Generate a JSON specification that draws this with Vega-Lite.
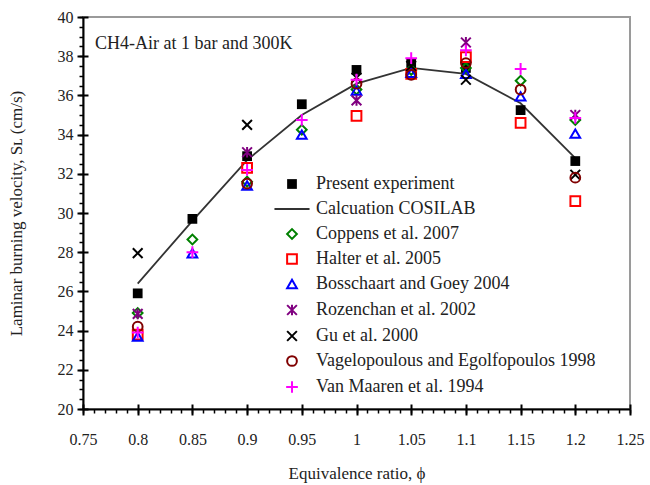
{
  "$schema": "https://vega.github.io/schema/vega-lite/v6.json",
  "autosize": "none",
  "padding": {"left": 83, "top": 17, "right": 20, "bottom": 76},
  "width": 547,
  "height": 392,
  "background": "white",
  "config": {
    "font": "Liberation Serif",
    "view": {"stroke": "#9a9a9a", "strokeWidth": 2},
    "axis": {"labelFont": "Liberation Serif", "titleFont": "Liberation Serif", "labelColor": "#222", "titleColor": "#222", "tickColor": "black", "domainColor": "black", "grid": false, "labelFlush": false, "labelOverlap": false},
    "legend": {"orient": "none", "legendX": 200, "legendY": 158, "labelFont": "Liberation Serif", "labelFontSize": 18, "labelColor": "#222", "labelOffset": 15, "rowPadding": 7, "symbolSize": 95, "symbolStrokeWidth": 2, "padding": 0, "labelLimit": 400, "title": null}
  },
  "datasets": {
    "pts": [
      {"phi": 0.8, "v": 25.9, "series": "Present experiment"},
      {"phi": 0.85, "v": 29.7, "series": "Present experiment"},
      {"phi": 0.9, "v": 32.9, "series": "Present experiment"},
      {"phi": 0.95, "v": 35.55, "series": "Present experiment"},
      {"phi": 1.0, "v": 37.3, "series": "Present experiment"},
      {"phi": 1.05, "v": 37.65, "series": "Present experiment"},
      {"phi": 1.1, "v": 37.4, "series": "Present experiment"},
      {"phi": 1.15, "v": 35.25, "series": "Present experiment"},
      {"phi": 1.2, "v": 32.65, "series": "Present experiment"},
      {"phi": 0.8, "v": 24.9, "series": "Coppens et al. 2007"},
      {"phi": 0.85, "v": 28.65, "series": "Coppens et al. 2007"},
      {"phi": 0.9, "v": 31.6, "series": "Coppens et al. 2007"},
      {"phi": 0.95, "v": 34.25, "series": "Coppens et al. 2007"},
      {"phi": 1.0, "v": 36.3, "series": "Coppens et al. 2007"},
      {"phi": 1.05, "v": 37.3, "series": "Coppens et al. 2007"},
      {"phi": 1.1, "v": 37.4, "series": "Coppens et al. 2007"},
      {"phi": 1.15, "v": 36.75, "series": "Coppens et al. 2007"},
      {"phi": 1.2, "v": 34.75, "series": "Coppens et al. 2007"},
      {"phi": 0.8, "v": 23.8, "series": "Halter et al. 2005"},
      {"phi": 0.9, "v": 32.3, "series": "Halter et al. 2005"},
      {"phi": 1.0, "v": 34.95, "series": "Halter et al. 2005"},
      {"phi": 1.05, "v": 37.1, "series": "Halter et al. 2005"},
      {"phi": 1.1, "v": 37.95, "series": "Halter et al. 2005"},
      {"phi": 1.15, "v": 34.6, "series": "Halter et al. 2005"},
      {"phi": 1.2, "v": 30.6, "series": "Halter et al. 2005"},
      {"phi": 0.8, "v": 23.7, "series": "Bosschaart and Goey 2004"},
      {"phi": 0.85, "v": 27.95, "series": "Bosschaart and Goey 2004"},
      {"phi": 0.9, "v": 31.4, "series": "Bosschaart and Goey 2004"},
      {"phi": 0.95, "v": 34.0, "series": "Bosschaart and Goey 2004"},
      {"phi": 1.0, "v": 36.25, "series": "Bosschaart and Goey 2004"},
      {"phi": 1.05, "v": 37.15, "series": "Bosschaart and Goey 2004"},
      {"phi": 1.1, "v": 37.1, "series": "Bosschaart and Goey 2004"},
      {"phi": 1.15, "v": 35.95, "series": "Bosschaart and Goey 2004"},
      {"phi": 1.2, "v": 34.05, "series": "Bosschaart and Goey 2004"},
      {"phi": 0.8, "v": 24.85, "series": "Rozenchan et al. 2002"},
      {"phi": 0.9, "v": 33.1, "series": "Rozenchan et al. 2002"},
      {"phi": 1.0, "v": 35.75, "series": "Rozenchan et al. 2002"},
      {"phi": 1.1, "v": 38.7, "series": "Rozenchan et al. 2002"},
      {"phi": 1.2, "v": 35.0, "series": "Rozenchan et al. 2002"},
      {"phi": 0.8, "v": 27.95, "series": "Gu et al. 2000"},
      {"phi": 0.9, "v": 34.5, "series": "Gu et al. 2000"},
      {"phi": 1.0, "v": 36.9, "series": "Gu et al. 2000"},
      {"phi": 1.05, "v": 37.5, "series": "Gu et al. 2000"},
      {"phi": 1.1, "v": 36.8, "series": "Gu et al. 2000"},
      {"phi": 1.2, "v": 31.95, "series": "Gu et al. 2000"},
      {"phi": 0.8, "v": 24.2, "series": "Vagelopoulous and Egolfopoulos 1998"},
      {"phi": 0.9, "v": 31.5, "series": "Vagelopoulous and Egolfopoulos 1998"},
      {"phi": 1.0, "v": 36.6, "series": "Vagelopoulous and Egolfopoulos 1998"},
      {"phi": 1.05, "v": 37.05, "series": "Vagelopoulous and Egolfopoulos 1998"},
      {"phi": 1.1, "v": 37.65, "series": "Vagelopoulous and Egolfopoulos 1998"},
      {"phi": 1.15, "v": 36.3, "series": "Vagelopoulous and Egolfopoulos 1998"},
      {"phi": 1.2, "v": 31.8, "series": "Vagelopoulous and Egolfopoulos 1998"},
      {"phi": 0.8, "v": 23.9, "series": "Van Maaren et al. 1994"},
      {"phi": 0.85, "v": 28.0, "series": "Van Maaren et al. 1994"},
      {"phi": 0.9, "v": 32.2, "series": "Van Maaren et al. 1994"},
      {"phi": 0.95, "v": 34.75, "series": "Van Maaren et al. 1994"},
      {"phi": 1.0, "v": 36.8, "series": "Van Maaren et al. 1994"},
      {"phi": 1.05, "v": 37.9, "series": "Van Maaren et al. 1994"},
      {"phi": 1.1, "v": 38.3, "series": "Van Maaren et al. 1994"},
      {"phi": 1.15, "v": 37.35, "series": "Van Maaren et al. 1994"},
      {"phi": 1.2, "v": 34.85, "series": "Van Maaren et al. 1994"}
    ],
    "calc": [
      {"phi": 0.8, "v": 26.4},
      {"phi": 0.85, "v": 29.6},
      {"phi": 0.9, "v": 32.7},
      {"phi": 0.95, "v": 35.0},
      {"phi": 1.0, "v": 36.6},
      {"phi": 1.05, "v": 37.4},
      {"phi": 1.1, "v": 37.1},
      {"phi": 1.15, "v": 35.6},
      {"phi": 1.2, "v": 32.8}
    ],
    "label": [
      {"phi": 0.761, "v": 38.6, "text": "CH4-Air at 1 bar and 300K"}
    ]
  },
  "resolve": {"axis": {"x": "independent", "y": "independent"}},
  "layer": [
    {
      "data": {"name": "calc"},
      "mark": {"type": "line", "color": "#333333", "strokeWidth": 1.8},
      "encoding": {
        "x": {"field": "phi", "type": "quantitative", "scale": {"domain": [0.75, 1.25], "nice": false, "zero": false},
          "axis": {"orient": "bottom", "values": [0.75,0.76,0.77,0.78,0.79,0.8,0.81,0.82,0.83,0.84,0.85,0.86,0.87,0.88,0.89,0.9,0.91,0.92,0.93,0.94,0.95,0.96,0.97,0.98,0.99,1.0,1.01,1.02,1.03,1.04,1.05,1.06,1.07,1.08,1.09,1.1,1.11,1.12,1.13,1.14,1.15,1.16,1.17,1.18,1.19,1.2,1.21,1.22,1.23,1.24,1.25], "labels": false, "domain": false, "tickSize": 4, "tickWidth": 1.5, "title": null}},
        "y": {"field": "v", "type": "quantitative", "scale": {"domain": [20, 40], "nice": false, "zero": false},
          "axis": {"orient": "left", "values": [20,20.5,21,21.5,22,22.5,23,23.5,24,24.5,25,25.5,26,26.5,27,27.5,28,28.5,29,29.5,30,30.5,31,31.5,32,32.5,33,33.5,34,34.5,35,35.5,36,36.5,37,37.5,38,38.5,39,39.5,40], "labels": false, "domain": false, "tickSize": 4, "tickWidth": 1.5, "title": null}}
      }
    },
    {
      "data": {"name": "label"},
      "mark": {"type": "text", "align": "left", "baseline": "middle", "fontSize": 18, "font": "Liberation Serif", "color": "#222"},
      "encoding": {
        "x": {"field": "phi", "type": "quantitative",
          "axis": {"orient": "bottom", "values": [0.75,0.8,0.85,0.9,0.95,1.0,1.05,1.1,1.15,1.2,1.25], "labels": false, "domain": false, "tickSize": -5, "tickWidth": 2, "title": null}},
        "y": {"field": "v", "type": "quantitative",
          "axis": {"orient": "left", "values": [20,22,24,26,28,30,32,34,36,38,40], "labels": false, "domain": false, "tickSize": -5, "tickWidth": 2, "title": null}},
        "text": {"field": "text"}
      }
    },
    {
      "data": {"name": "pts"},
      "mark": {"type": "point", "size": 95, "opacity": 1, "strokeWidth": 2},
      "encoding": {
        "x": {"field": "phi", "type": "quantitative",
          "axis": {"orient": "bottom", "values": [0.75,0.8,0.85,0.9,0.95,1.0,1.05,1.1,1.15,1.2,1.25], "format": "~g", "tickSize": 6, "tickWidth": 2, "domainWidth": 2, "labelFontSize": 16, "labelPadding": 16, "title": "Equivalence ratio, ϕ", "titleFontSize": 17, "titleFontWeight": "normal", "titlePadding": 18}},
        "y": {"field": "v", "type": "quantitative",
          "axis": {"orient": "left", "values": [20,22,24,26,28,30,32,34,36,38,40], "tickSize": 6, "tickWidth": 2, "domainWidth": 2, "labelFontSize": 16, "labelPadding": 4, "title": "Laminar burning velocity, Sʟ (cm/s)", "titleFontSize": 17, "titleFontWeight": "normal", "titlePadding": 32}},
        "shape": {"field": "series", "type": "nominal",
          "scale": {"domain": ["Present experiment", "Calcuation COSILAB", "Coppens et al. 2007", "Halter et al. 2005", "Bosschaart and Goey 2004", "Rozenchan et al. 2002", "Gu et al. 2000", "Vagelopoulous and Egolfopoulos 1998", "Van Maaren et al. 1994"],
            "range": ["square", "M-3.6,0L3.6,0", "diamond", "square", "triangle-up", "M-1,-1L1,1M-1,1L1,-1M0,-1.1L0,1.1", "M-1,-1L1,1M-1,1L1,-1", "circle", "M-1.2,0L1.2,0M0,-1.2L0,1.2"]}},
        "stroke": {"field": "series", "type": "nominal",
          "scale": {"domain": ["Present experiment", "Calcuation COSILAB", "Coppens et al. 2007", "Halter et al. 2005", "Bosschaart and Goey 2004", "Rozenchan et al. 2002", "Gu et al. 2000", "Vagelopoulous and Egolfopoulos 1998", "Van Maaren et al. 1994"],
            "range": ["transparent", "#333333", "#008000", "#ff0000", "#0000ff", "#800080", "black", "#800000", "#ff00ff"]}},
        "fill": {"field": "series", "type": "nominal",
          "scale": {"domain": ["Present experiment", "Calcuation COSILAB", "Coppens et al. 2007", "Halter et al. 2005", "Bosschaart and Goey 2004", "Rozenchan et al. 2002", "Gu et al. 2000", "Vagelopoulous and Egolfopoulos 1998", "Van Maaren et al. 1994"],
            "range": ["black", "transparent", "transparent", "transparent", "transparent", "transparent", "transparent", "transparent", "transparent"]}}
      }
    }
  ]
}
